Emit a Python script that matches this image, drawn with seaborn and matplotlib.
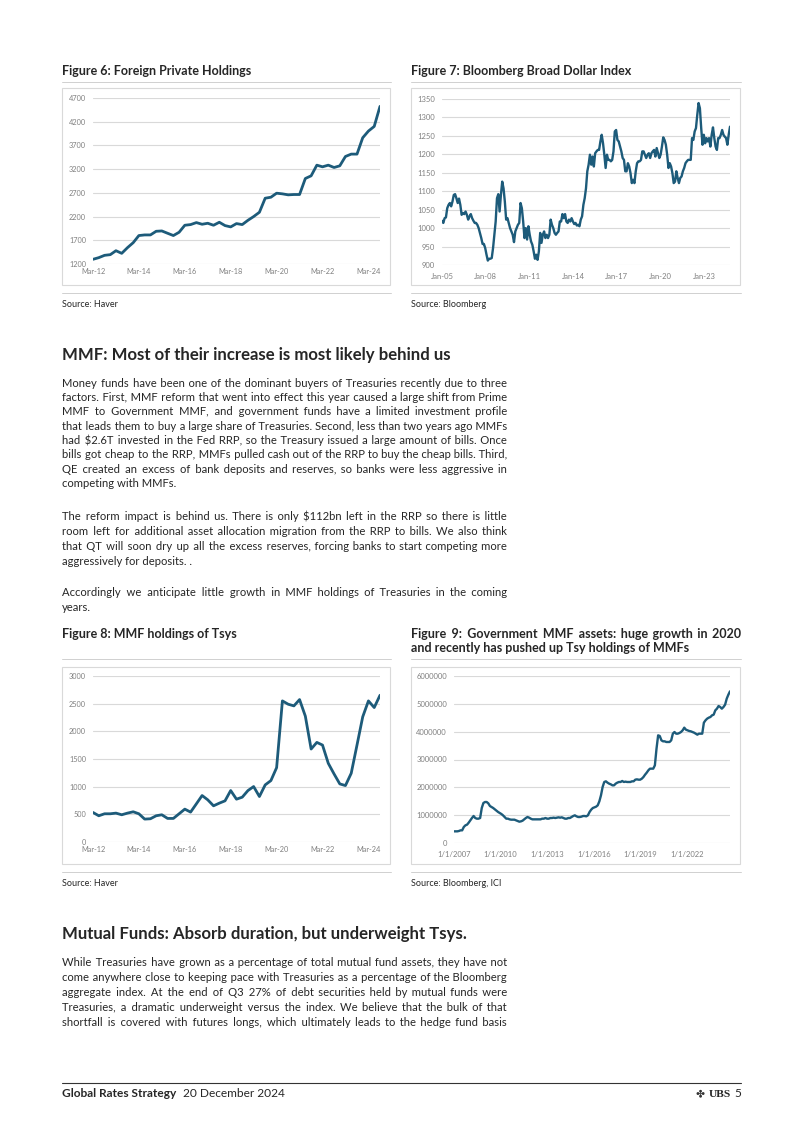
import matplotlib
matplotlib.use("Agg")
import matplotlib.pyplot as plt
from matplotlib.patches import Rectangle
from matplotlib.lines import Line2D
from matplotlib import font_manager
import seaborn as sns
import pandas as pd

# ---- data -------------------------------------------------------------------
# Figure 6: foreign private holdings, quarterly Mar-12 .. Sep-24
fph_values = [1299, 1334, 1383, 1397, 1480, 1425, 1545, 1650, 1800, 1813, 1813, 1890,
              1897, 1848, 1800, 1869, 2017, 2031, 2073, 2038, 2059, 2017, 2080, 2010,
              1982, 2052, 2031, 2122, 2200, 2291, 2587, 2608, 2693, 2679, 2658, 2665,
              2665, 3003, 3059, 3284, 3249, 3284, 3235, 3270, 3467, 3517, 3517, 3862,
              4003, 4101, 4524]
fph_ticks = ["2012-03-01", "2014-03-01", "2016-03-01", "2018-03-01", "2020-03-01", "2022-03-01", "2024-03-01"]
fph_labels = ["Mar-12", "Mar-14", "Mar-16", "Mar-18", "Mar-20", "Mar-22", "Mar-24"]
fph_yticks = [1200, 1700, 2200, 2700, 3200, 3700, 4200, 4700]

# Figure 7: Bloomberg broad dollar index, evenly sampled Jan-05 .. Oct-24
bbdxy_values = [1020, 1014, 1027, 1029, 1054, 1063, 1068, 1059, 1072, 1090, 1092, 1081, 1068, 1080,
                1063, 1036, 1041, 1038, 1045, 1036, 1023, 1032, 1038, 1027, 1020, 1014, 1014, 1009,
                1000, 987, 973, 957, 957, 946, 928, 912, 917, 917, 919, 946, 982, 1018, 1081, 1092,
                1045, 1090, 1126, 1108, 1072, 1023, 1027, 1014, 1000, 991, 982, 962, 991, 1000, 1009,
                1014, 1068, 1054, 1018, 973, 1000, 969, 1005, 982, 964, 955, 937, 917, 928, 914, 937,
                987, 960, 982, 991, 973, 982, 973, 982, 1023, 1009, 1000, 987, 982, 987, 991, 1018,
                1018, 1038, 1027, 1038, 1018, 1014, 1023, 1018, 1027, 1018, 1011, 1014, 1007, 1009,
                1005, 1023, 1032, 1063, 1081, 1108, 1154, 1172, 1199, 1172,
                1194, 1167, 1203, 1208, 1212, 1212, 1235, 1253, 1230, 1199, 1163, 1199, 1185, 1185,
                1181, 1185, 1208, 1262, 1266, 1239, 1235, 1221, 1208, 1190, 1185, 1154, 1154, 1176,
                1167, 1149, 1122, 1131, 1122, 1154, 1176, 1181, 1181, 1185, 1208, 1208, 1199, 1190,
                1199, 1203, 1190, 1203, 1208, 1212, 1194, 1217, 1203, 1190, 1199, 1221, 1246, 1239,
                1226, 1199, 1163, 1176, 1167, 1149, 1122, 1126, 1154, 1136, 1122, 1136, 1140, 1154,
                1163, 1176, 1181, 1185, 1185, 1185, 1244, 1239, 1262, 1271, 1307, 1339, 1325, 1271,
                1226, 1253, 1230, 1244, 1235, 1244, 1221, 1253, 1273, 1244, 1221, 1212, 1244, 1244,
                1253, 1266, 1253, 1248, 1244, 1226, 1253, 1275]
bbdxy_ticks = ["2005-01-01", "2008-01-01", "2011-01-01", "2014-01-01", "2017-01-01", "2020-01-01", "2023-01-01"]
bbdxy_labels = ["Jan-05", "Jan-08", "Jan-11", "Jan-14", "Jan-17", "Jan-20", "Jan-23"]
bbdxy_yticks = [900, 950, 1000, 1050, 1100, 1150, 1200, 1250, 1300, 1350]

# Figure 8: MMF holdings of Tsys, quarterly Mar-12 .. Sep-24
mmf_values = [534, 474, 510, 510, 522, 492, 522, 546, 510, 414, 420, 474, 492, 426, 426, 510,
              594, 540, 690, 840, 762, 654, 702, 744, 930, 774, 810, 930, 1002, 822, 1032, 1110,
              1344, 2550, 2490, 2460, 2574, 2274, 1680, 1800, 1752, 1422, 1230, 1050, 1020, 1242,
              1752, 2262, 2550, 2430, 2652]
mmf_yticks = [0, 500, 1000, 1500, 2000, 2500, 3000]

# Figure 9: government MMF assets (thousands), evenly sampled Jan-07 .. Oct-24
gov_values_k = [419, 419, 419, 431, 455, 455, 575, 635, 659, 731, 814, 898, 970, 898, 874, 874, 898,
                1257, 1437, 1473, 1473, 1425, 1329, 1293, 1257, 1210, 1162, 1114, 1078, 1042, 994,
                934, 874, 874, 850, 838, 838, 838, 814, 790, 766, 778, 802, 850, 898, 934, 910, 874,
                850, 850, 850, 850, 850, 850, 874, 874, 898, 874, 874, 898, 898, 910, 898, 910, 922,
                910, 922, 898, 874, 874, 898, 898, 934, 970, 994, 958, 934, 934, 946, 970, 970, 958,
                994, 1114, 1198, 1257,
                1281, 1305, 1353, 1497, 1713, 2012, 2192, 2216, 2168, 2132, 2108, 2072, 2072, 2132,
                2168, 2192, 2192, 2228, 2192, 2204, 2192, 2192, 2192, 2216, 2216, 2275, 2287, 2275,
                2275, 2311, 2371, 2455, 2527, 2611, 2671, 2671, 2671, 2790, 3389, 3868, 3844, 3689,
                3653, 3653, 3629, 3629, 3629, 3689, 3928, 3988, 3928, 3928, 3952, 3988, 4048, 4144,
                4072, 4048, 4024, 4012, 3988, 3964, 3928, 3892, 3928, 3928, 3928, 4323, 4407, 4467,
                4503, 4527, 4587, 4611, 4766, 4826, 4922, 4886, 4826, 4886, 4970, 5186, 5329, 5449]
gov_ticks = ["2007-01-01", "2010-01-01", "2013-01-01", "2016-01-01", "2019-01-01", "2022-01-01"]
gov_labels = ["1/1/2007", "1/1/2010", "1/1/2013", "1/1/2016", "1/1/2019", "1/1/2022"]
gov_yticks = [0, 1000000, 2000000, 3000000, 4000000, 5000000, 6000000]

para1 = ["Money funds have been one of the dominant buyers of Treasuries recently due to three",
         "factors. First, MMF reform that went into effect this year caused a large shift from Prime",
         "MMF to Government MMF, and government funds have a limited investment profile",
         "that leads them to buy a large share of Treasuries. Second, less than two years ago MMFs",
         "had $2.6T invested in the Fed RRP, so the Treasury issued a large amount of bills. Once",
         "bills got cheap to the RRP, MMFs pulled cash out of the RRP to buy the cheap bills. Third,",
         "QE created an excess of bank deposits and reserves, so banks were less aggressive in",
         "competing with MMFs."]
para2 = ["The reform impact is behind us. There is only $112bn left in the RRP so there is little",
         "room left for additional asset allocation migration from the RRP to bills. We also think",
         "that QT will soon dry up all the excess reserves, forcing banks to start competing more",
         "aggressively for deposits. ."]
para3 = ["Accordingly we anticipate little growth in MMF holdings of Treasuries in the coming",
         "years."]
para4 = ["While Treasuries have grown as a percentage of total mutual fund assets, they have not",
         "come anywhere close to keeping pace with Treasuries as a percentage of the Bloomberg",
         "aggregate index. At the end of Q3 27% of debt securities held by mutual funds were",
         "Treasuries, a dramatic underweight versus the index. We believe that the bulk of that",
         "shortfall is covered with futures longs, which ultimately leads to the hedge fund basis"]

# ---- page set-up -------------------------------------------------------------
W, H = 802, 1134
LINE = "#1d5b7a"
GRID = "#d9d9d9"
TICK = "#808080"
HAIR = "\u200a"


def pick_family():
    # first candidate that really has a bold face installed
    for fam in ["Lato", "Open Sans", "Roboto", "Noto Sans", "Liberation Sans"]:
        try:
            path = font_manager.findfont(font_manager.FontProperties(family=fam, weight="bold"),
                                         fallback_to_default=False)
        except Exception:
            continue
        if "bold" in path.lower() or "black" in path.lower():
            return fam
    return "DejaVu Sans"


sns.set_style("white")
FAMILY = pick_family()
plt.rcParams["font.family"] = [FAMILY, "DejaVu Sans"]

fig = plt.figure(figsize=(W / 100, H / 100), dpi=100)
fig.patch.set_facecolor("white")
renderer = fig.canvas.get_renderer()


def fx(x):
    return x / W


def fy(y):
    return 1 - y / H


def width_of(s, size, **kw):
    t = fig.text(0, 0, s, fontsize=size, **kw)
    w = t.get_window_extent(renderer).width
    t.remove()
    return w


def put(x, y, s, size, **kw):
    # y is the visual middle of the line, baseline snapped to a whole pixel
    base = round(y + 0.33 * size * 100 / 72)
    return fig.text(fx(x), fy(base), s, fontsize=size, va="baseline", **kw)


def justify(x0, x1, y, line, size, **kw):
    # one text per line; the word gaps are widened with hair spaces
    words = line.split()
    gaps = len(words) - 1
    nat = width_of(line, size, **kw)
    hair = (width_of("x" + HAIR * 20 + "x", size, **kw) - width_of("xx", size, **kw)) / 20
    total = max(int(round((x1 - x0 - nat) / hair)), 0) if hair > 0 else 0
    out = words[0]
    for i, w in enumerate(words[1:]):
        k = total // gaps + (1 if i < total % gaps else 0)
        out += " " + HAIR * k + w
    put(x0, y, out, size, **kw)


def paragraph(lines, y0, step, size, last_free=True):
    for i, line in enumerate(lines):
        y = y0 + i * step
        if last_free and i == len(lines) - 1:
            put(62, y, line, size)
        else:
            justify(62, 507, y, line, size)


def hline(x0, x1, y, color="#d0d0d0", lw=0.7):
    fig.add_artist(Line2D([fx(x0), fx(x1)], [fy(y), fy(y)], transform=fig.transFigure,
                          color=color, lw=lw))


def frame_box(x0, y0, x1, y1):
    fig.add_artist(Rectangle((fx(x0), fy(y1)), (x1 - x0) / W, (y1 - y0) / H,
                             transform=fig.transFigure, fill=False, edgecolor=GRID, lw=0.8))


def chart(box, df, ylim, yticks, ylabels, xticks, xlabels, lw, size, marks=False):
    l, t, r, b = box
    ax = fig.add_axes([fx(l), fy(b), (r - l) / W, (b - t) / H])
    sns.lineplot(data=df, x="date", y="value", ax=ax, color=LINE, linewidth=lw)
    ax.set_xlim(df["date"].min(), df["date"].max())
    ax.set_ylim(*ylim)
    ax.set_yticks(yticks)
    ax.set_yticklabels(ylabels)
    ax.set_xticks(pd.to_datetime(xticks))
    ax.set_xticklabels(xlabels)
    ax.set_xlabel("")
    ax.set_ylabel("")
    for s in ax.spines.values():
        s.set_visible(False)
    ax.yaxis.grid(True, color=GRID, lw=0.8)
    ax.xaxis.grid(False)
    ax.set_facecolor("none")
    ax.tick_params(axis="y", length=0, labelsize=size, labelcolor=TICK, pad=5)
    ax.tick_params(axis="x", length=2.5 if marks else 0, color=GRID, labelsize=size,
                   labelcolor=TICK, pad=3)
    return ax


# ---- charts ------------------------------------------------------------------
df6 = pd.DataFrame({"date": pd.date_range("2012-03-01", periods=len(fph_values), freq="3MS"),
                    "value": fph_values})
df8 = pd.DataFrame({"date": pd.date_range("2012-03-01", periods=len(mmf_values), freq="3MS"),
                    "value": mmf_values})
df7 = pd.DataFrame({"date": pd.date_range("2005-01-01", "2024-10-15", periods=len(bbdxy_values)),
                    "value": bbdxy_values})
df9 = pd.DataFrame({"date": pd.date_range("2007-01-01", "2024-10-01", periods=len(gov_values_k)),
                    "value": [v * 1000 for v in gov_values_k]})

chart((93, 98, 380, 264), df6, (1200, 4700), fph_yticks, [str(v) for v in fph_yticks],
      fph_ticks, fph_labels, 2.0, 5.3)
chart((442, 99, 730, 265), df7, (900, 1350), bbdxy_yticks, [str(v) for v in bbdxy_yticks],
      bbdxy_ticks, bbdxy_labels, 1.7, 5.5, marks=True)
chart((93, 676, 380, 842), df8, (0, 3000), mmf_yticks, [str(v) for v in mmf_yticks],
      fph_ticks, fph_labels, 2.0, 5.3)
chart((454, 676, 730, 843), df9, (0, 6000000), gov_yticks, [str(v) for v in gov_yticks],
      gov_ticks, gov_labels, 1.7, 5.5, marks=True)

for x0, x1 in [(62, 391), (411, 741)]:
    hline(x0, x1, 82)
    hline(x0, x1, 293)
    hline(x0, x1, 659)
    hline(x0, x1, 872)
    frame_box(x0, 88, x1 - 1, 285)
    frame_box(x0, 667, x1 - 1, 864)

# ---- titles, sources ---------------------------------------------------------
B = {"fontweight": "bold"}
tsize = 10 * 190 / width_of("Figure 6: Foreign Private Holdings", 10, **B)
put(62, 71, "Figure 6: Foreign Private Holdings", tsize, **B)
put(411, 71, "Figure 7: Bloomberg Broad Dollar Index", tsize, **B)
put(62, 634, "Figure 8: MMF holdings of Tsys", tsize, **B)
justify(411, 741, 634, "Figure 9: Government MMF assets: huge growth in 2020", tsize, **B)
put(411, 648, "and recently has pushed up Tsy holdings of MMFs", tsize, **B)

ssize = 10 * 91 / width_of("Source: Bloomberg, ICI", 10)
put(62, 304, "Source: Haver", ssize)
put(411, 304, "Source: Bloomberg", ssize)
put(62, 883, "Source: Haver", ssize)
put(411, 883, "Source: Bloomberg, ICI", ssize)

# ---- body text ---------------------------------------------------------------
hsize = 10 * 391 / width_of("MMF: Most of their increase is most likely behind us", 10, **B)
put(62, 354, "MMF: Most of their increase is most likely behind us", hsize, **B)
put(62, 933, "Mutual Funds: Absorb duration, but underweight Tsys.", hsize, **B)

justified = para1[:-1] + para2[:-1] + para3[:-1] + para4
widest = max(width_of(s, 10) for s in justified)
bsize = 10 * 443 / widest

paragraph(para1, 383, 14.3, bsize)
paragraph(para2, 516.5, 14.8, bsize)
paragraph(para3, 592.5, 14.8, bsize)
paragraph(para4, 962, 15, bsize, last_free=False)

# ---- footer ------------------------------------------------------------------
hline(62, 741, 1083, color="#333333", lw=0.8)
fsize = 10 * 115 / width_of("Global Rates Strategy", 10, **B)
put(62, 1093, "Global Rates Strategy", fsize, **B)
put(183, 1093, "20 December 2024", fsize)
put(700, 1093, "\u2724", fsize * 0.9, ha="center", family=["DejaVu Sans"], color="#333333")
put(731, 1093, "UBS", fsize * 0.95, ha="right", fontweight="bold",
    family=["Liberation Serif", "DejaVu Serif"])
put(741, 1093, "5", fsize, ha="right")

fig.savefig("out.png", dpi=100)
